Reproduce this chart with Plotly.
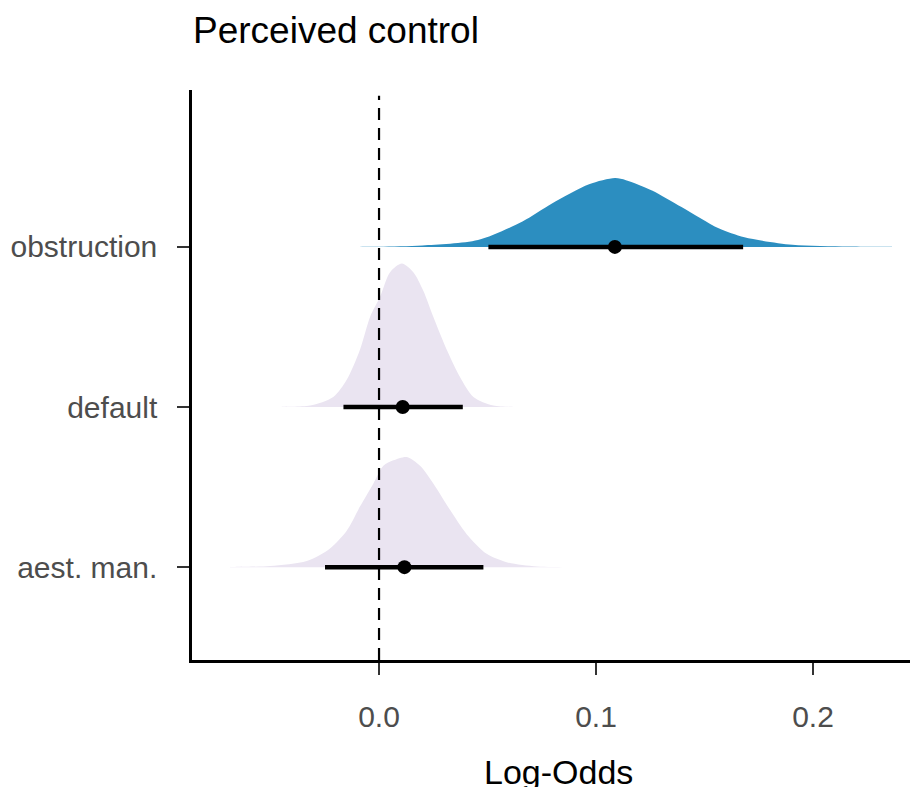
import plotly.graph_objects as go

categories = ["aest. man.", "default", "obstruction"]
positions = [1, 2, 3]

# point estimates and 95% intervals (log-odds)
point_est = [0.0117, 0.0109, 0.1087]
ci_low = [-0.0249, -0.0164, 0.0504]
ci_high = [0.0481, 0.0386, 0.1678]

# density outlines (x in log-odds, height in category units)
dens_x_aest = [-0.0687, -0.0502, -0.0333, -0.0226, -0.0149, -0.0088, -0.0026, 0.0020,
               0.0066, 0.0128, 0.0189, 0.0250, 0.0327, 0.0404, 0.0496, 0.0588, 0.0727, 0.0896]
dens_h_aest = [0.0, 0.007, 0.038, 0.117, 0.227, 0.378, 0.523, 0.633,
               0.667, 0.688, 0.633, 0.523, 0.358, 0.206, 0.083, 0.031, 0.004, 0.0]

dens_x_default = [-0.0456, -0.0318, -0.0211, -0.0149, -0.0088, -0.0041, 0.0005, 0.0051,
                  0.0105, 0.0158, 0.0204, 0.0250, 0.0312, 0.0373, 0.0435, 0.0527, 0.0650]
dens_h_default = [0.0, 0.009, 0.063, 0.170, 0.358, 0.564, 0.690, 0.842,
                  0.896, 0.842, 0.726, 0.564, 0.358, 0.188, 0.063, 0.009, 0.0]

dens_x_obst = [-0.0175, 0.0000, 0.0200, 0.0456, 0.0661, 0.0797, 0.0968, 0.1087,
               0.1138, 0.1258, 0.1394, 0.1565, 0.1684, 0.1905, 0.2161, 0.2365]
dens_h_obst = [0.0, 0.001, 0.009, 0.043, 0.159, 0.271, 0.391, 0.430,
               0.417, 0.353, 0.249, 0.116, 0.060, 0.013, 0.002, 0.0]

x_ticks = [0.0, 0.1, 0.2]
x_tick_labels = ["0.0", "0.1", "0.2"]

fill_colors = ["#EAE4F1", "#EAE4F1", "#2C8EC0"]
dens_x = [dens_x_aest, dens_x_default, dens_x_obst]
dens_h = [dens_h_aest, dens_h_default, dens_h_obst]

FONT = "Liberation Sans, Arial, Helvetica, sans-serif"

fig = go.Figure()

for i in range(3):
    base = positions[i]
    xs = dens_x[i] + dens_x[i][::-1]
    ys = [base + h for h in dens_h[i]] + [base] * len(dens_x[i])
    fig.add_trace(go.Scatter(
        x=xs, y=ys, mode="lines", fill="toself",
        fillcolor=fill_colors[i],
        line=dict(width=0, color=fill_colors[i], shape="spline", smoothing=0.8),
        hoverinfo="skip", showlegend=False))

# reference line at zero
fig.add_shape(type="line", xref="x", yref="paper", x0=0, x1=0, y0=0, y1=0.99,
              line=dict(color="black", width=2.2, dash="12px,8px"))

for i in range(3):
    fig.add_trace(go.Scatter(
        x=[ci_low[i], ci_high[i]], y=[positions[i], positions[i]], mode="lines",
        line=dict(color="black", width=4.5), hoverinfo="skip", showlegend=False))
    fig.add_trace(go.Scatter(
        x=[point_est[i]], y=[positions[i]], mode="markers",
        marker=dict(color="black", size=14), hoverinfo="skip", showlegend=False))

fig.update_layout(
    width=910, height=787,
    margin=dict(l=192, r=0, t=90, b=127),
    plot_bgcolor="white", paper_bgcolor="white",
    font=dict(family=FONT, color="black"),
    title=dict(text="Perceived control", x=193/910, xref="container", xanchor="left",
               y=1 - 30/787, yref="container", yanchor="middle",
               font=dict(size=37, family=FONT, color="black")),
    xaxis=dict(range=[-0.0862, 0.2447], tickvals=x_ticks, ticktext=x_tick_labels,
               showgrid=False, zeroline=False, showline=True, linecolor="black",
               linewidth=2.5, ticks="outside", ticklen=12, tickwidth=2, tickcolor="#333333",
               tickfont=dict(size=30, color="#4D4D4D", family=FONT),
               ticklabelstandoff=16),
    yaxis=dict(range=[0.42, 3.98], tickvals=positions, ticktext=categories,
               showgrid=False, zeroline=False, showline=True, linecolor="black",
               linewidth=2.5, ticks="outside", ticklen=12, tickwidth=2, tickcolor="#333333",
               tickfont=dict(size=30, color="#4D4D4D", family=FONT),
               ticklabelstandoff=14),
)

fig.add_annotation(text="Log-Odds", xref="paper", yref="paper",
                   x=(558 - 192) / 718, y=-(772 - 660) / 570,
                   xanchor="center", yanchor="middle", showarrow=False,
                   font=dict(size=34, color="black", family=FONT))

fig.write_html("out.html")
